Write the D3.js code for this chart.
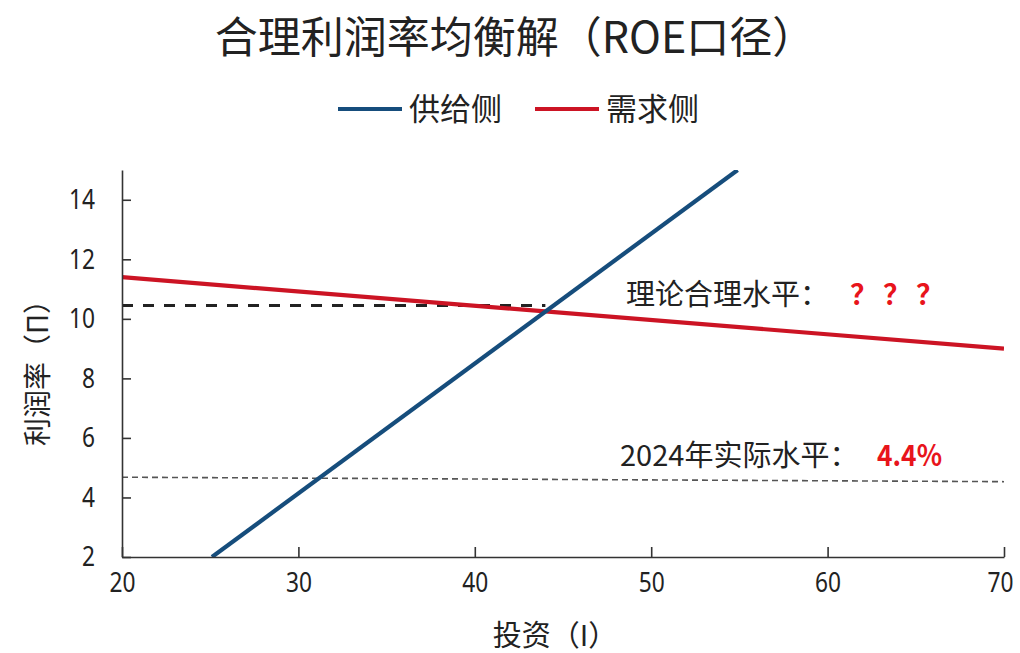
<!DOCTYPE html>
<html>
<head>
<meta charset="utf-8">
<script src="https://cdn.jsdelivr.net/npm/d3@7/dist/d3.min.js"></script>
<style>
  html, body { margin: 0; padding: 0; background: #fff; }
  svg { display: block; }
  text { font-family: "Noto Sans CJK SC", "Noto Sans", sans-serif; fill: #222; }
  text.hl { fill: #e8141b; font-weight: bold; }
</style>
</head>
<body>
<svg id="chart" width="1020" height="653"></svg>
<script>
// Axis ticks
const xTicks = [20, 30, 40, 50, 60, 70];
const yTicks = [2, 4, 6, 8, 10, 12, 14];

// Supply curve (investment vs. profit rate), rising
const supplyX = [25.1, 54.9];
const supplyY = [2, 15];

// Demand curve, gently falling
const demandX = [20, 70];
const demandY = [11.4, 9.0];

// Theoretical equilibrium level (dashed, up to the crossing)
const theoryX = [20, 44];
const theoryY = [10.45, 10.45];

// Actual 2024 level (dotted reference)
const actualX = [20, 70];
const actualY = [4.68, 4.53];
const actualLabel = "4.4%";

const series = [
  { name: "供给侧", xs: supplyX, ys: supplyY, color: "#164d7c" },
  { name: "需求侧", xs: demandX, ys: demandY, color: "#cc1424" }
];

const svg = d3.select("#chart");
const M = { left: 122, right: 1004, top: 170, bottom: 557 };

const x = d3.scaleLinear().domain([20, 70]).range([M.left, M.right]);
const y = d3.scaleLinear().domain([2, 15]).range([M.bottom, M.top]);

const pts = (xs, ys) => xs.map((v, i) => [v, ys[i]]);
const line = d3.line().x(d => x(d[0])).y(d => y(d[1]));

// Narrow digits: squeeze each label to a condensed width
const condense = (sel, perChar) => sel.each(function () {
  const t = d3.select(this);
  t.attr("textLength", t.text().length * perChar).attr("lengthAdjust", "spacingAndGlyphs");
});

// Title
svg.append("text")
  .attr("x", 515).attr("y", 53)
  .attr("text-anchor", "middle")
  .style("font-size", "43px")
  .text("合理利润率均衡解（ROE口径）");

// Legend
const legend = svg.append("g");
const legendPos = [338, 535];
series.forEach((s, i) => {
  const g = legend.append("g").attr("transform", `translate(${legendPos[i]},109)`);
  g.append("line").attr("x1", 0).attr("x2", 64).attr("y1", 0).attr("y2", 0)
    .attr("stroke", s.color).attr("stroke-width", 4);
  g.append("text").attr("x", 71).attr("y", 11)
    .style("font-size", "31px").text(s.name);
});

// Clip area for the plotted lines
svg.append("clipPath").attr("id", "plot")
  .append("rect")
  .attr("x", M.left).attr("y", M.top)
  .attr("width", M.right - M.left).attr("height", M.bottom - M.top);

const plot = svg.append("g").attr("clip-path", "url(#plot)");

// Reference levels
plot.append("path")
  .attr("d", line(pts(actualX, actualY)))
  .attr("fill", "none").attr("stroke", "#555")
  .attr("stroke-width", 1.6).attr("stroke-dasharray", "6,4");

plot.append("path")
  .attr("d", line(pts(theoryX, theoryY)))
  .attr("fill", "none").attr("stroke", "#222")
  .attr("stroke-width", 3).attr("stroke-dasharray", "11,10");

// Curves
series.slice().reverse().forEach(s => {
  plot.append("path")
    .attr("d", line(pts(s.xs, s.ys)))
    .attr("fill", "none").attr("stroke", s.color)
    .attr("stroke-width", 4.2);
});

// Axes with inward ticks
const yAxis = d3.axisLeft(y).tickValues(yTicks).tickSizeInner(-9).tickSizeOuter(0).tickPadding(27);
const xAxis = d3.axisBottom(x).tickValues(xTicks).tickSizeInner(-10).tickSizeOuter(0).tickPadding(15);

const gy = svg.append("g").attr("transform", `translate(${M.left},0)`).call(yAxis);
const gx = svg.append("g").attr("transform", `translate(0,${M.bottom})`).call(xAxis);

[gx, gy].forEach(g => {
  g.select(".domain").attr("stroke", "#333").attr("stroke-width", 1.6);
  g.selectAll(".tick line").attr("stroke", "#333").attr("stroke-width", 1.6);
  g.selectAll(".tick text")
    .style("font-family", "'Noto Sans', sans-serif")
    .style("font-size", "28px")
    .call(condense, 13);
});

// Keep the last x label inside the canvas edge
gx.selectAll(".tick text").filter(d => d === xTicks[xTicks.length - 1]).attr("dx", -4);

// Axis titles
svg.append("text")
  .attr("x", 555).attr("y", 646)
  .attr("text-anchor", "middle")
  .style("font-size", "29px")
  .text("投资（I）");

svg.append("text")
  .attr("transform", "translate(48,366) rotate(-90)")
  .attr("text-anchor", "middle")
  .style("font-size", "28px")
  .text("利润率（Π）");

// Annotations
svg.append("text").attr("x", 626).attr("y", 305)
  .style("font-size", "29px").text("理论合理水平：");
svg.append("text").attr("class", "hl").attr("x", 850).attr("y", 305)
  .style("font-size", "28px")
  .attr("letter-spacing", 5)
  .text("？？？");

svg.append("text").attr("x", 620).attr("y", 466)
  .style("font-size", "29px").text("2024年实际水平：");
svg.append("text").attr("class", "hl").attr("x", 877).attr("y", 466)
  .style("font-size", "29px")
  .attr("textLength", 65).attr("lengthAdjust", "spacingAndGlyphs")
  .text(actualLabel);
</script>
</body>
</html>
